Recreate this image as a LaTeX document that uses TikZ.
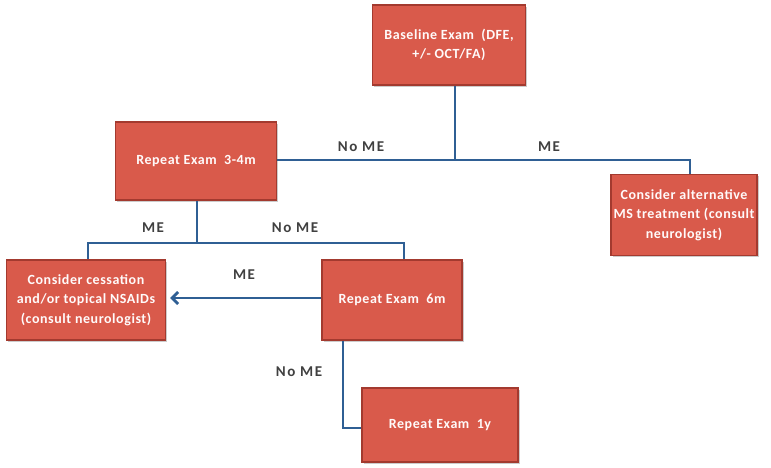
\documentclass[tikz,border=0pt]{standalone}
\usepackage{fontspec}
\setmainfont{Carlito}
\usetikzlibrary{arrows.meta,shadows}
\definecolor{boxfill}{HTML}{D95A4B}
\definecolor{boxline}{HTML}{A33A2F}
\definecolor{conn}{HTML}{2F5F94}
\definecolor{lbl}{HTML}{404040}
\tikzset{
  box/.style={draw=boxline, line width=1.4pt, fill=boxfill, text=white!92!pink,
    font=\bfseries\fontsize{14}{19.5}\selectfont\addfontfeature{LetterSpace=4}, align=center, inner sep=1pt,
    drop shadow={shadow xshift=1.5pt, shadow yshift=-1.5pt, fill=black!40, opacity=0.5}},
  conn/.style={draw=conn, line width=2.8pt},
  lab/.style={text=lbl, font=\bfseries\fontsize{15}{18}\selectfont\addfontfeature{LetterSpace=10}}
}
\begin{document}
\begin{tikzpicture}[x=1pt,y=-1pt]
\useasboundingbox (0,0) rectangle (771,467);
\node[box, minimum width=153pt, minimum height=80pt] (base) at (449,45) {Baseline Exam\ \ (DFE,\\ +/- OCT/FA)};
\node[box, minimum width=161pt, minimum height=78pt] (r34) at (196,161) {Repeat Exam\ \ 3-4m};
\node[box, minimum width=146pt, minimum height=81pt] (alt) at (684,215) {Consider alternative\\ MS treatment (consult\\ neurologist)};
\node[box, minimum width=159pt, minimum height=80pt] (cess) at (86,300) {Consider cessation\\ and/or topical NSAIDs\\ (consult neurologist)};
\node[box, minimum width=140pt, minimum height=80pt] (r6) at (392,300) {Repeat Exam\ \ 6m};
\node[box, minimum width=156pt, minimum height=74pt] (r1y) at (440,425) {Repeat Exam\ \ 1y};

\coordinate (j1) at (455,160);
\coordinate (j2) at (197,243);
\draw[conn] (base.south -| j1) -- (j1);
\draw[conn] (r34.east |- j1) -- (j1) -| ([xshift=6pt]alt.north);
\draw[conn] (r34.south -| j2) -- (j2);
\draw[conn] (j2) -| ([xshift=2pt]cess.north);
\draw[conn] (j2) -| ([xshift=12pt]r6.north);
\draw[conn, -{Straight Barb[length=6pt,width=12pt]}] (r6.west |- 0,298) -- ([xshift=4pt]cess.east |- 0,298);
\draw[conn] ([xshift=-49pt]r6.south) |- (r1y.west |- 0,428);

\node[lab] (l1) at (361,147) {No ME};
\node[lab] (l2) at (549,147) {ME};
\node[lab] (l3) at (153,228) {ME};
\node[lab] (l4) at (295,228) {No ME};
\node[lab] (l5) at (244,275) {ME};
\node[lab] (l6) at (299,372) {No ME};
\end{tikzpicture}
\end{document}
